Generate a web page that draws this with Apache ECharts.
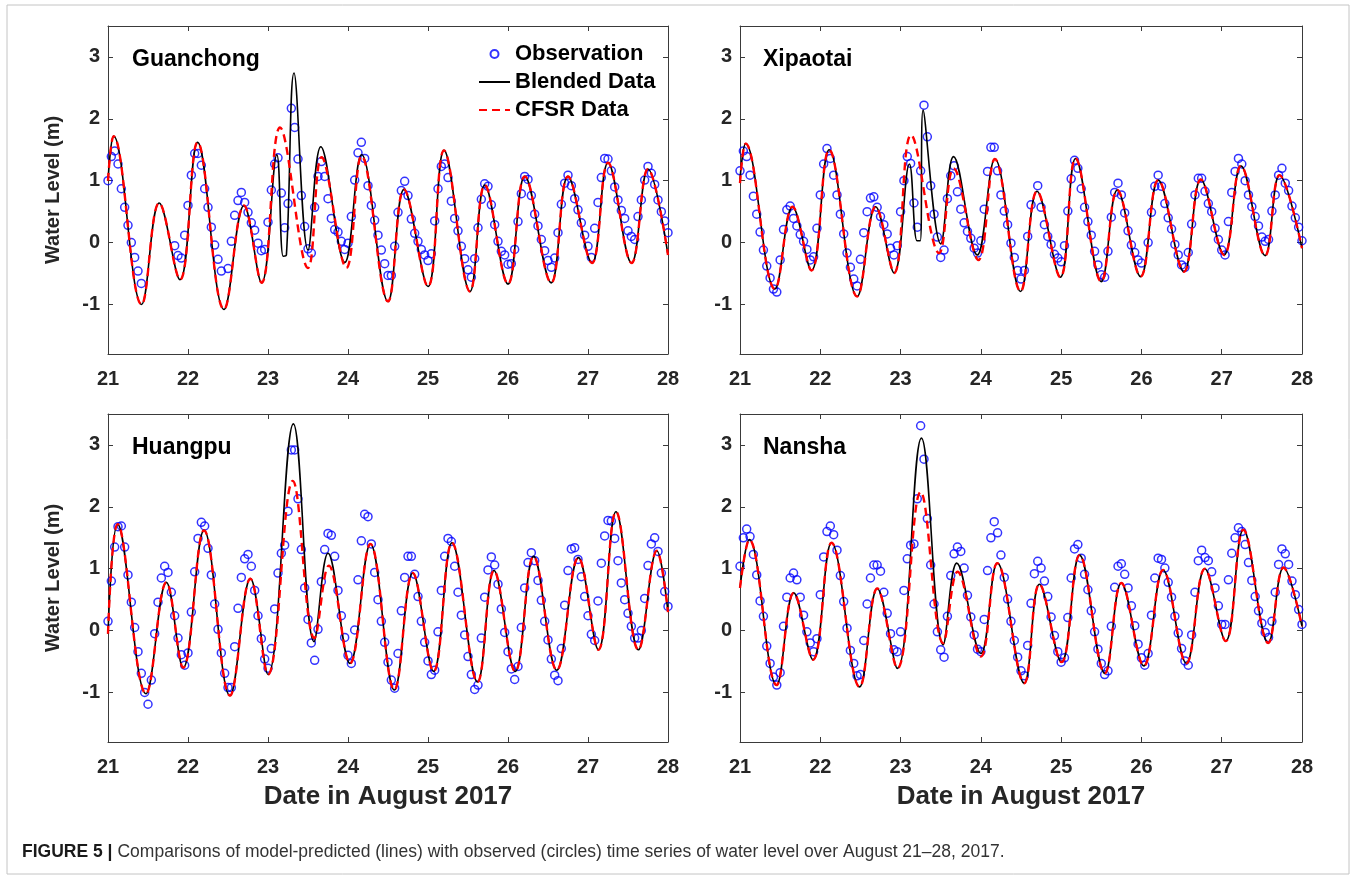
<!DOCTYPE html>
<html><head><meta charset="utf-8">
<script src="https://cdn.jsdelivr.net/npm/echarts@6/dist/echarts.min.js"></script>
<style>html,body{margin:0;padding:0;background:#fff}#c{width:1357px;height:880px}</style>
</head><body><div id="c"></div>
<script>
// ---------------- data ----------------
const stations = ['Guanchong', 'Xipaotai', 'Huangpu', 'Nansha'];
const xTicks = [21, 22, 23, 24, 25, 26, 27, 28];
const yTicks = [-1, 0, 1, 2, 3];
const obsStartDay = 21;      // hourly observations from Aug 21 00:00
const hoursPerDay = 24;

const obsGuanchong = [
  1.00,1.39,1.48,1.27,0.87,0.57,0.28,0.00,-0.24,-0.46,-0.66,null,null,null,null,null,null,null,null,null,-0.05,-0.21,-0.25,0.12,
  0.60,1.09,1.44,1.44,1.25,0.87,0.57,0.25,-0.04,-0.27,-0.46,null,-0.42,0.02,0.44,0.68,0.81,0.65,0.49,0.32,0.20,-0.01,-0.13,-0.11,
  0.33,0.85,1.27,1.37,0.80,0.24,0.63,2.17,1.86,1.35,0.76,0.26,-0.10,-0.17,0.57,1.07,1.31,1.07,0.71,0.39,0.21,0.17,0.02,-0.11,
  -0.01,0.42,1.01,1.45,1.62,1.36,0.92,0.60,0.36,0.12,-0.12,-0.34,-0.53,-0.53,-0.06,0.49,0.84,0.99,0.76,0.38,0.15,0.02,-0.11,-0.20,
  -0.29,-0.18,0.35,0.87,1.23,1.27,1.05,0.67,0.39,0.19,-0.06,-0.26,-0.44,-0.56,-0.26,0.24,0.70,0.95,0.91,0.61,0.29,0.02,-0.14,-0.20,
  -0.35,-0.34,-0.11,0.34,0.79,1.07,1.02,0.76,0.46,0.27,0.05,-0.13,-0.29,-0.40,-0.25,0.16,0.62,0.96,1.09,0.92,0.71,0.53,0.32,0.12,
  -0.06,-0.24,0.23,0.65,1.05,1.36,1.35,1.16,0.90,0.69,0.52,0.39,0.19,0.10,0.05,0.42,0.69,1.01,1.23,1.12,0.94,0.69,0.50,0.35,
  0.16
];
const obsXipaotai = [
  1.16,1.48,1.39,1.09,0.75,0.46,0.17,-0.12,-0.38,-0.57,-0.75,-0.80,-0.28,0.21,0.53,0.59,0.39,0.27,0.13,0.02,-0.11,-0.28,-0.23,0.23,
  0.77,1.27,1.52,1.36,1.09,0.77,0.46,0.14,-0.17,-0.40,-0.59,-0.70,-0.27,0.16,0.50,0.72,0.74,0.57,0.42,0.29,0.14,-0.09,-0.20,-0.05,
  0.50,1.00,1.39,1.28,0.64,0.25,1.16,2.22,1.71,0.92,0.46,0.09,-0.24,-0.12,0.71,1.08,1.24,0.82,0.54,0.32,0.18,0.07,-0.09,-0.17,
  0.03,0.54,1.15,1.54,1.54,1.16,0.77,0.51,0.29,-0.01,-0.24,-0.45,-0.59,-0.45,0.10,0.61,null,0.92,0.57,0.29,0.10,-0.03,-0.19,-0.25,
  -0.31,-0.05,0.51,1.03,1.33,1.20,0.87,0.57,0.34,0.12,-0.14,-0.36,-0.52,-0.56,-0.14,0.41,0.81,0.96,0.77,0.48,0.19,-0.04,-0.16,-0.28,
  -0.33,null,0.00,0.49,0.91,1.09,0.91,0.63,0.40,0.22,-0.03,-0.20,-0.36,-0.40,-0.16,0.30,0.77,1.04,1.04,0.83,0.63,0.50,0.23,0.05,
  -0.12,-0.20,0.34,0.81,1.15,1.36,1.27,1.00,0.77,0.58,0.42,0.27,0.09,0.02,0.05,0.51,0.77,1.09,1.20,0.96,0.84,0.59,0.40,0.25,
  0.03
];
const obsHuangpu = [
  0.15,0.80,1.35,1.68,1.69,1.35,0.90,0.46,0.05,-0.34,-0.69,-1.00,-1.19,-0.80,-0.05,0.46,0.85,1.04,0.94,0.62,0.24,-0.12,-0.39,-0.56,
  -0.36,0.30,0.95,1.49,1.75,1.69,1.33,0.90,0.43,0.02,-0.36,-0.69,-0.92,-0.92,-0.26,0.36,0.86,1.16,1.23,1.04,0.65,0.24,-0.13,-0.46,
  -0.61,-0.29,0.35,0.93,1.25,1.38,1.93,2.92,2.92,2.13,1.31,0.69,0.18,-0.20,-0.48,0.02,0.79,1.31,1.57,1.54,1.20,0.65,0.24,-0.11,
  -0.40,-0.53,0.01,0.82,1.45,1.88,1.84,1.40,0.94,0.50,0.15,-0.19,-0.51,-0.80,-0.93,-0.37,0.32,0.86,1.20,1.20,0.91,0.55,0.15,-0.19,
  -0.49,-0.71,-0.64,-0.02,0.65,1.20,1.49,1.44,1.04,0.62,0.25,-0.07,-0.42,-0.71,-0.95,-0.88,-0.12,0.54,0.98,1.19,1.06,0.75,0.35,-0.03,
  -0.34,-0.62,-0.79,-0.58,0.05,0.69,1.10,1.26,1.13,0.81,0.49,0.15,-0.15,-0.46,-0.72,-0.81,-0.29,0.41,0.97,1.32,1.34,1.15,0.87,0.55,
  0.24,-0.06,-0.16,0.48,1.09,1.53,1.78,1.77,1.49,1.13,0.77,0.50,0.28,0.07,-0.12,-0.12,0.00,0.52,1.05,1.40,1.50,1.28,0.93,0.63,
  0.39
];
const obsNansha = [
  1.04,1.50,1.64,1.52,1.23,0.90,0.48,0.23,-0.25,-0.53,-0.75,-0.88,-0.68,0.07,0.54,0.85,0.93,0.82,0.54,0.25,-0.02,-0.20,-0.34,-0.13,
  0.58,1.19,1.60,1.69,1.55,1.30,0.89,0.47,0.04,-0.32,-0.53,-0.73,-0.71,-0.16,0.43,0.85,1.06,1.06,0.96,0.62,0.28,-0.05,-0.31,-0.34,
  -0.02,0.65,1.16,1.38,1.40,2.13,3.31,2.77,1.81,1.06,0.43,-0.02,-0.31,-0.43,0.23,0.89,1.24,1.35,1.28,1.01,0.57,0.22,-0.07,-0.30,
  -0.34,0.18,0.97,1.50,1.76,1.58,1.22,0.86,0.51,0.15,-0.16,-0.43,-0.65,-0.73,-0.24,0.44,0.92,1.12,1.01,0.80,0.55,0.22,-0.08,-0.34,
  -0.51,-0.44,0.21,0.85,1.32,1.39,1.17,0.91,0.66,0.32,-0.02,-0.30,-0.53,-0.71,-0.65,0.07,0.70,1.04,1.08,0.91,0.69,0.40,0.08,-0.22,
  -0.44,-0.56,-0.37,0.25,0.85,1.17,1.15,1.01,0.78,0.54,0.23,-0.04,-0.29,-0.49,-0.56,-0.07,0.62,1.13,1.30,1.18,1.13,0.95,0.69,0.40,
  0.10,0.10,0.82,1.25,1.50,1.66,1.60,1.39,1.10,0.81,0.55,0.32,0.12,-0.03,-0.11,0.15,0.62,1.07,1.32,1.24,1.07,0.80,0.58,0.34,
  0.10
];

// model curves: [day, water level] at turning points
const blendedGuanchong = [[21.0,1.0],[21.07,1.72],[21.42,-1.0],[21.64,0.64],[21.9,-0.60],[22.12,1.62],[22.45,-1.08],[22.70,0.60],[22.92,-0.65],[23.11,1.42],[23.19,-0.22],[23.23,-0.20],[23.325,2.74],[23.50,-0.12],[23.66,1.55],[23.96,-0.32],[24.17,1.42],[24.50,-0.95],[24.70,0.86],[25.0,-0.71],[25.20,1.49],[25.525,-0.79],[25.71,0.93],[26.0,-0.67],[26.21,1.07],[26.54,-0.65],[26.75,1.07],[27.05,-0.33],[27.25,1.29],[27.545,-0.33],[27.75,1.19],[28.0,-0.20]];
const cfsrGuanchong = [[21.0,1.0],[21.07,1.72],[21.42,-1.0],[21.64,0.64],[21.9,-0.60],[22.12,1.62],[22.45,-1.08],[22.70,0.60],[22.92,-0.65],[23.15,1.86],[23.50,-0.41],[23.67,1.38],[23.98,-0.41],[24.17,1.40],[24.50,-0.95],[24.70,0.86],[25.0,-0.71],[25.20,1.49],[25.525,-0.79],[25.71,0.93],[26.0,-0.67],[26.21,1.07],[26.54,-0.65],[26.75,1.07],[27.05,-0.33],[27.25,1.29],[27.545,-0.33],[27.75,1.19],[28.0,-0.20]];
const blendedXipaotai = [[21.0,1.02],[21.07,1.60],[21.435,-0.75],[21.655,0.58],[21.89,-0.45],[22.11,1.50],[22.46,-0.87],[22.69,0.58],[22.92,-0.49],[23.11,1.27],[23.205,0.03],[23.245,0.03],[23.28,2.14],[23.50,-0.02],[23.66,1.39],[23.955,-0.20],[24.175,1.35],[24.495,-0.79],[24.70,0.83],[24.99,-0.56],[25.18,1.36],[25.50,-0.63],[25.70,0.85],[25.99,-0.55],[26.21,1.01],[26.53,-0.47],[26.74,1.02],[27.03,-0.20],[27.24,1.24],[27.54,-0.21],[27.72,1.09],[28.0,-0.09]];
const cfsrXipaotai = [[21.0,0.96],[21.07,1.60],[21.435,-0.75],[21.655,0.58],[21.89,-0.45],[22.11,1.50],[22.46,-0.87],[22.69,0.58],[22.92,-0.49],[23.13,1.74],[23.48,-0.17],[23.66,1.20],[23.97,-0.28],[24.175,1.35],[24.495,-0.79],[24.70,0.83],[24.99,-0.56],[25.18,1.36],[25.50,-0.63],[25.70,0.85],[25.99,-0.55],[26.21,1.01],[26.53,-0.47],[26.74,1.02],[27.03,-0.20],[27.24,1.24],[27.54,-0.21],[27.72,1.09],[28.0,-0.09]];
const blendedHuangpu = [[21.0,-0.05],[21.12,1.72],[21.475,-1.02],[21.73,0.78],[21.94,-0.60],[22.20,1.62],[22.525,-1.05],[22.78,0.84],[23.0,-0.71],[23.317,3.34],[23.575,-0.18],[23.75,1.25],[24.025,-0.53],[24.28,1.40],[24.58,-0.96],[24.81,0.93],[25.07,-0.66],[25.30,1.42],[25.62,-0.83],[25.825,0.97],[26.09,-0.66],[26.32,1.20],[26.61,-0.64],[26.88,1.18],[27.13,-0.31],[27.35,1.92],[27.63,-0.31],[27.86,1.29],[28.0,0.30]];
const cfsrHuangpu = [[21.0,-0.05],[21.12,1.72],[21.475,-1.02],[21.73,0.78],[21.94,-0.60],[22.20,1.62],[22.525,-1.05],[22.78,0.84],[23.0,-0.71],[23.31,2.42],[23.58,-0.12],[23.76,1.05],[24.025,-0.53],[24.28,1.40],[24.58,-0.96],[24.81,0.93],[25.07,-0.66],[25.30,1.42],[25.62,-0.83],[25.825,0.97],[26.09,-0.66],[26.32,1.20],[26.61,-0.64],[26.88,1.18],[27.13,-0.31],[27.35,1.92],[27.63,-0.31],[27.86,1.29],[28.0,0.30]];
const blendedNansha = [[21.0,0.69],[21.116,1.47],[21.456,-0.88],[21.67,0.61],[21.91,-0.47],[22.14,1.42],[22.49,-0.91],[22.71,0.68],[22.96,-0.61],[23.26,3.11],[23.53,-0.23],[23.70,1.09],[24.0,-0.37],[24.205,1.09],[24.54,-0.85],[24.73,0.75],[25.005,-0.51],[25.23,1.22],[25.545,-0.69],[25.75,0.77],[26.03,-0.57],[26.27,0.98],[26.56,-0.53],[26.79,1.00],[27.05,-0.17],[27.27,1.63],[27.58,-0.20],[27.77,1.02],[28.0,0.07]];
const cfsrNansha = [[21.0,0.69],[21.116,1.47],[21.456,-0.88],[21.67,0.61],[21.91,-0.47],[22.14,1.42],[22.49,-0.91],[22.71,0.68],[22.96,-0.61],[23.25,2.24],[23.53,-0.20],[23.71,0.95],[24.0,-0.42],[24.205,1.09],[24.54,-0.85],[24.73,0.75],[25.005,-0.51],[25.23,1.22],[25.545,-0.69],[25.75,0.77],[26.03,-0.57],[26.27,0.98],[26.56,-0.53],[26.79,1.00],[27.05,-0.17],[27.27,1.63],[27.58,-0.20],[27.77,1.02],[28.0,0.07]];

const obsAll = [obsGuanchong, obsXipaotai, obsHuangpu, obsNansha];
const blendedAll = [blendedGuanchong, blendedXipaotai, blendedHuangpu, blendedNansha];
const cfsrAll = [cfsrGuanchong, cfsrXipaotai, cfsrHuangpu, cfsrNansha];

// ---------------- chart ----------------
const FONT = '"Liberation Sans", Arial, Helvetica, sans-serif';
const AX = '#3a3a3a';
const grids = [
  {left:108, top:26, width:560, height:328},
  {left:740, top:26, width:562, height:328},
  {left:108, top:414, width:560, height:328},
  {left:740, top:414, width:562, height:328}
];
const titlePos = [[132,48],[763,48],[132,436],[763,436]];

function hourly(vals) {
  const out = [];
  vals.forEach((v, k) => { if (v !== null) out.push([obsStartDay + k / hoursPerDay, v]); });
  return out;
}

const xAxes = [], yAxes = [], series = [], titles = [];
grids.forEach((g, i) => {
  const isBottom = i >= 2, isLeft = i % 2 === 0;
  const common = {
    type:'value', gridIndex:i, min:xTicks[0], max:xTicks[xTicks.length-1], interval:1,
    splitLine:{show:false},
    axisLine:{show:true, onZero:false, lineStyle:{color:AX, width:1}},
    axisTick:{show:true, inside:true, length:5, lineStyle:{color:AX, width:1}}
  };
  xAxes.push(Object.assign({}, common, {
    position:'bottom',
    axisLabel:{show:true, margin:15, fontSize:20, fontWeight:'bold', color:'#262626', fontFamily:FONT},
    name: isBottom ? 'Date in August 2017' : '',
    nameLocation:'middle', nameGap:42,
    nameTextStyle:{fontSize:26, fontWeight:'bold', color:'#262626', fontFamily:FONT}
  }));
  xAxes.push(Object.assign({}, common, {position:'top', axisLabel:{show:false}}));
  const yCommon = {
    type:'value', gridIndex:i, min:-1.8, max:3.5,
    splitLine:{show:false},
    axisLine:{show:true, onZero:false, lineStyle:{color:AX, width:1}},
    axisTick:{show:true, inside:true, length:5, customValues:yTicks, lineStyle:{color:AX, width:1}}
  };
  yAxes.push(Object.assign({}, yCommon, {
    position:'left',
    axisLabel:{show:true, customValues:yTicks, margin:8, fontSize:20, fontWeight:'bold', color:'#262626', fontFamily:FONT},
    name: isLeft ? 'Water Level (m)' : '',
    nameLocation:'middle', nameGap:45, nameRotate:90,
    nameTextStyle:{fontSize:20, fontWeight:'bold', color:'#262626', fontFamily:FONT}
  }));
  yAxes.push(Object.assign({}, yCommon, {position:'right', axisLabel:{show:false}}));

  series.push({
    type:'scatter', name:'Observation', xAxisIndex:2*i, yAxisIndex:2*i,
    data: hourly(obsAll[i]), symbol:'circle', symbolSize:8,
    itemStyle:{color:'rgba(255,255,255,0)', borderColor:'#0000ff', borderWidth:1.5},
    z:2, silent:true
  });
  series.push({
    type:'line', name:'Blended Data', xAxisIndex:2*i, yAxisIndex:2*i,
    data: blendedAll[i], symbol:'none', showSymbol:false, smooth:0.4,
    lineStyle:{color:'#000', width:1.6}, itemStyle:{color:'#000'}, z:3, silent:true
  });
  series.push({
    type:'line', name:'CFSR Data', xAxisIndex:2*i, yAxisIndex:2*i,
    data: cfsrAll[i], symbol:'none', showSymbol:false, smooth:0.4,
    lineStyle:{color:'#ff0000', width:2.4, type:[8,5]}, itemStyle:{color:'#ff0000'}, z:4, silent:true
  });
  titles.push({
    text: stations[i], left:titlePos[i][0], top:titlePos[i][1], padding:0,
    textStyle:{fontSize:23, fontWeight:'bold', color:'#000', fontFamily:FONT}
  });
});

titles.push({
  text:'{b|FIGURE 5 |} {r|Comparisons of model-predicted (lines) with observed (circles) time series of water level over August 21–28, 2017.}',
  left:22, top:843, padding:0,
  textStyle:{fontWeight:'normal', rich:{
    b:{fontSize:17.5, fontWeight:'bold', color:'#1a1a1a', fontFamily:FONT},
    r:{fontSize:17.5, fontWeight:'normal', color:'#333', fontFamily:FONT}
  }}
});

const option = {
  animation:false,
  backgroundColor:'#fff',
  title: titles,
  grid: grids.map(g => Object.assign({outerBoundsMode:'none', containLabel:false}, g)),
  xAxis: xAxes,
  yAxis: yAxes,
  legend: {
    data:[
      {name:'Observation'},
      {name:'Blended Data', itemStyle:{opacity:0}},
      {name:'CFSR Data', itemStyle:{opacity:0}}
    ],
    orient:'vertical', left:478, top:42, padding:0,
    itemWidth:31, itemHeight:8, itemGap:4, selectedMode:false,
    textStyle:{fontSize:22, fontWeight:'bold', color:'#000', lineHeight:24, fontFamily:FONT}
  },
  graphic:[{
    type:'rect', shape:{x:7, y:5, width:1342, height:869}, silent:true, z:-1,
    style:{fill:'none', stroke:'#c4c4c4', lineWidth:1}
  }],
  series: series
};

const chart = echarts.init(document.getElementById('c'), null, {renderer:'canvas'});
chart.setOption(option);
</script>
</body></html>
